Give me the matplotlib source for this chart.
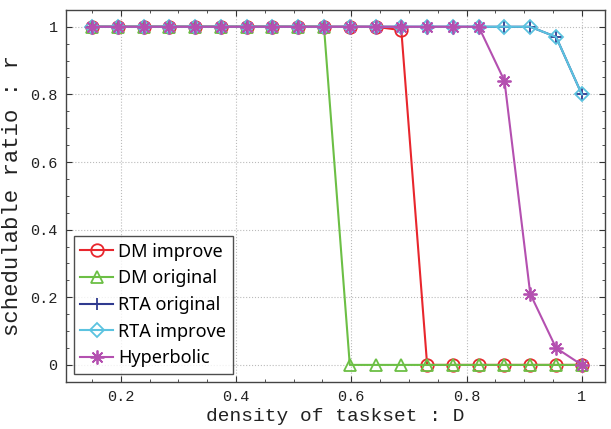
import numpy as np
import matplotlib
matplotlib.use("Agg")
import matplotlib.pyplot as plt
from matplotlib.ticker import MultipleLocator

x = [0.15, 0.1947, 0.2395, 0.2842, 0.3289, 0.3737, 0.4184, 0.4632, 0.5079, 0.5526,
     0.5974, 0.6421, 0.6868, 0.7316, 0.7763, 0.8211, 0.8658, 0.9105, 0.9553, 1.0]
dm_improve = [1, 1, 1, 1, 1, 1, 1, 1, 1, 1, 1, 1, 0.99, 0, 0, 0, 0, 0, 0, 0]
dm_original = [1, 1, 1, 1, 1, 1, 1, 1, 1, 1, 0, 0, 0, 0, 0, 0, 0, 0, 0, 0]
rta_original = [1, 1, 1, 1, 1, 1, 1, 1, 1, 1, 1, 1, 1, 1, 1, 1, 1, 1, 0.97, 0.8]
rta_improve = [1, 1, 1, 1, 1, 1, 1, 1, 1, 1, 1, 1, 1, 1, 1, 1, 1, 1, 0.97, 0.8]
hyperbolic = [1, 1, 1, 1, 1, 1, 1, 1, 1, 1, 1, 1, 1, 1, 1, 1, 0.84, 0.21, 0.05, 0]

labels = ["DM improve", "DM original", "RTA original", "RTA improve", "Hyperbolic"]
xticks = [0.2, 0.4, 0.6, 0.8, 1.0]
xticklabels = ["0.2", "0.4", "0.6", "0.8", "1"]
yticks = [0, 0.2, 0.4, 0.6, 0.8, 1.0]
yticklabels = ["0", "0.2", "0.4", "0.6", "0.8", "1"]

fig = plt.figure(figsize=(6.11, 4.29), dpi=100)
ax = fig.add_axes([0.108, 0.110, 0.882, 0.867])

lw = 1.5
ax.plot(x, dm_improve, color="#e8262d", lw=lw, marker="o", ms=9, mfc="none", mew=1.3, label=labels[0])
ax.plot(x, dm_original, color="#6cbf45", lw=lw, marker="^", ms=9, mfc="none", mew=1.3, label=labels[1])
ax.plot(x, rta_original, color="#2f3a8f", lw=lw, marker="+", ms=9, mew=1.3, label=labels[2])
ax.plot(x, rta_improve, color="#5bc3e0", lw=lw, marker="D", ms=7, mfc="none", mew=1.3, label=labels[3])
ax.plot(x, hyperbolic, color="#b450b0", lw=lw, marker=(8, 2, 0), ms=10, mew=1.3, label=labels[4])

ax.set_xlim(0.105, 1.04)
ax.set_ylim(-0.05, 1.05)
ax.set_xticks(xticks)
ax.set_xticklabels(xticklabels)
ax.set_yticks(yticks)
ax.set_yticklabels(yticklabels)
ax.xaxis.set_minor_locator(MultipleLocator(0.05))
ax.yaxis.set_minor_locator(MultipleLocator(0.05))
ax.tick_params(which="both", direction="in", top=True, right=True, colors="#333333")
ax.tick_params(which="major", length=4, labelsize=11, pad=6)
ax.tick_params(which="minor", length=2)
for lab in ax.get_xticklabels() + ax.get_yticklabels():
    lab.set_family("Liberation Mono")
    lab.set_color("#222222")
ax.grid(True, which="major", ls=":", color="#bbbbbb", lw=0.8)
for s in ax.spines.values():
    s.set_color("#444444")
    s.set_linewidth(1.0)

ax.set_xlabel("density of taskset : D", family="Liberation Mono", fontsize=14, color="#222222", labelpad=3)
ax.set_ylabel("schedulable ratio : r", family="Liberation Mono", fontsize=16, color="#222222", labelpad=5)

leg = ax.legend(loc="lower left", bbox_to_anchor=(0.0, 0.0), prop={"family": "Noto Sans", "size": 13},
                frameon=True, fancybox=False, edgecolor="#222222", borderpad=0.35,
                handlelength=1.8, handletextpad=0.3, labelspacing=0.48, borderaxespad=0.45)
leg.get_frame().set_linewidth(1.0)

fig.savefig("out.png", dpi=100)
